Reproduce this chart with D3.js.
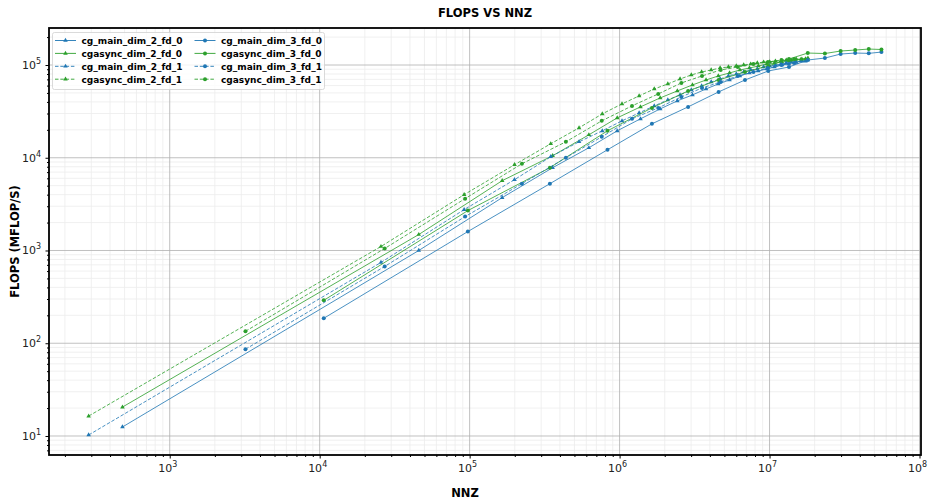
<!DOCTYPE html>
<html>
<head>
<meta charset="utf-8">
<script src="https://cdn.jsdelivr.net/npm/d3@7/dist/d3.min.js"></script>
<style>
  body { margin: 0; background: #fff; }
  text { font-family: "DejaVu Sans", sans-serif; }
</style>
</head>
<body>
<script>
      // Width and height
      var w = 930;
      var h = 499;

      // NNZ values (x) for each problem family
      var nnzDim2Fd0 = [484, 45796, 164836, 357604, 624100, 964324, 1378276, 1865956, 2427364, 3062500, 3771364, 4553956, 5410276, 6340324, 7344100, 8421604, 9572836, 10797796, 12096484, 13468900, 14915044, 16434916, 18028516];
      var nnzDim2Fd1 = [288, 25632, 91936, 199200, 347424, 536608, 766752, 1037856, 1349920, 1702944, 2096928, 2531872, 3007776, 3524640, 4082464, 4681248, 5320992, 6001696, 6723360, 7485984, 8289568, 9134112, 10019616, 10946080, 11913504, 12921888, 13971232, 15061536, 16192800, 17365024];
      var nnzDim3Fd0 = [10648, 97336, 343000, 830584, 1643032, 2863288, 4574296, 6859000, 9800344, 13481272, 17984728, 23393656, 29791000, 37259704, 45882712, 55742968];
      var nnzDim3Fd1 = [3200, 27136, 93312, 223232, 438400, 760320, 1210496, 1810432, 2581632, 3545600, 4723840, 6137856, 7809152, 9759232, 12009600, 14581760];

      // FLOPS (MFLOP/s)
      var cgMainDim2Fd0 = [12.5, 1000, 3715, 7810, 12810, 19520, 26270, 33650, 41020, 47580, 55200, 62480, 68970, 76170, 82040, 86200, 90580, 95170, 100000, 102500, 107700, 110400, 113200];
      var cgasyncDim2Fd0 = [20.5, 1486, 5660, 10510, 17680, 26920, 35350, 44180, 52530, 60950, 68970, 76170, 82040, 88370, 92860, 97560, 102500, 105100, 107700, 110400, 113200, 116000, 118900];
      var cgMainDim2Fd1 = [10.25, 743, 2760, 5800, 10250, 14860, 19520, 25000, 30470, 36240, 42040, 47580, 53850, 59460, 65650, 70700, 76170, 80040, 84090, 88370, 90580, 95170, 97560, 100000, 102500, 105100, 107700, 106900, 110400, 109800];
      var cgasyncDim2Fd1 = [16.4, 1104, 4000, 8410, 14150, 21020, 29730, 38080, 46420, 55200, 62480, 70700, 78090, 84090, 88370, 92860, 95170, 97560, 100000, 102500, 105100, 107700, 108300, 110400, 111000, 113200, 112500, 116000, 115200, 116500];
      var cgMainDim3Fd0 = [185.7, 1601, 5250, 12190, 23210, 35350, 51250, 68970, 86200, 95170, 113200, 118900, 131300, 134600, 133500, 137900];
      var cgasyncDim3Fd0 = [290, 2692, 7810, 19520, 34490, 52530, 68970, 84090, 97560, 116000, 134600, 133000, 141500, 145000, 148600, 147000];
      var cgMainDim3Fd1 = [86.2, 673, 2321, 5250, 10000, 16820, 26270, 34490, 45280, 56580, 65650, 76170, 84090, 92860, 100000, 105100];
      var cgasyncDim3Fd1 = [134.6, 1051, 3623, 8620, 14860, 25000, 36240, 48770, 64050, 76170, 88370, 95170, 102500, 107700, 113200, 116000];

      var seriesNames = ["cg_main_dim_2_fd_0", "cgasync_dim_2_fd_0", "cg_main_dim_2_fd_1", "cgasync_dim_2_fd_1",
                         "cg_main_dim_3_fd_0", "cgasync_dim_3_fd_0", "cg_main_dim_3_fd_1", "cgasync_dim_3_fd_1"];
      var seriesX = [nnzDim2Fd0, nnzDim2Fd0, nnzDim2Fd1, nnzDim2Fd1, nnzDim3Fd0, nnzDim3Fd0, nnzDim3Fd1, nnzDim3Fd1];
      var seriesY = [cgMainDim2Fd0, cgasyncDim2Fd0, cgMainDim2Fd1, cgasyncDim2Fd1, cgMainDim3Fd0, cgasyncDim3Fd0, cgMainDim3Fd1, cgasyncDim3Fd1];

      var xTicks = [1e3, 1e4, 1e5, 1e6, 1e7, 1e8];
      var yTicks = [1e1, 1e2, 1e3, 1e4, 1e5];

      var blue = "#1f77b4", green = "#2ca02c";

      var series = seriesNames.map(function(name, i) {
        return {
          name: name,
          color: name.indexOf("cgasync") === 0 ? green : blue,
          dashed: /fd_1$/.test(name),
          marker: name.indexOf("dim_2") >= 0 ? "tri" : "dot",
          values: seriesX[i].map(function(x, j) { return { x: x, y: seriesY[i][j] }; })
        };
      });

      // plot box (note: "top" is reserved on window, so keep these in an object)
      var box = { l: 49, r: 921, t: 28, b: 455 };

      var x = d3.scaleLog()
          .domain([Math.pow(10, 2.195), Math.pow(10, 8.01)])
          .range([box.l, box.r]);
      var y = d3.scaleLog()
          .domain([Math.pow(10, 0.795), Math.pow(10, 5.399)])
          .range([box.b, box.t]);

      var svg = d3.select("body")
            .append("svg")
            .attr("width", w)
            .attr("height", h);

      // minor ticks: 2..9 x 10^k inside the domain
      function minorTicks(scale) {
        var d = scale.domain(), out = [];
        for (var k = Math.floor(Math.log10(d[0])); k <= Math.ceil(Math.log10(d[1])); k++) {
          for (var m = 2; m <= 9; m++) {
            var v = m * Math.pow(10, k);
            if (v >= d[0] && v <= d[1]) out.push(v);
          }
        }
        return out;
      }
      var xMinor = minorTicks(x), yMinor = minorTicks(y);

      //Grid
      var grid = svg.append("g");
      grid.selectAll(".xminor").data(xMinor).enter().append("line")
          .attr("x1", function(d) { return x(d); }).attr("x2", function(d) { return x(d); })
          .attr("y1", box.t).attr("y2", box.b)
          .attr("stroke", "#ececec").attr("stroke-width", 0.8);
      grid.selectAll(".yminor").data(yMinor).enter().append("line")
          .attr("y1", function(d) { return y(d); }).attr("y2", function(d) { return y(d); })
          .attr("x1", box.l).attr("x2", box.r)
          .attr("stroke", "#ececec").attr("stroke-width", 0.8);
      grid.selectAll(".xmajor").data(xTicks).enter().append("line")
          .attr("x1", function(d) { return x(d); }).attr("x2", function(d) { return x(d); })
          .attr("y1", box.t).attr("y2", box.b)
          .attr("stroke", "#b0b0b0").attr("stroke-width", 0.8);
      grid.selectAll(".ymajor").data(yTicks).enter().append("line")
          .attr("y1", function(d) { return y(d); }).attr("y2", function(d) { return y(d); })
          .attr("x1", box.l).attr("x2", box.r)
          .attr("stroke", "#b0b0b0").attr("stroke-width", 0.8);

      //Lines
      var line = d3.line()
          .x(function(d) { return x(d.x); })
          .y(function(d) { return y(d.y); });

      var triangle = d3.symbol().type(d3.symbolTriangle).size(9);

      function drawMarker(sel, s) {
        if (s.marker === "tri") {
          sel.append("path")
            .attr("d", triangle)
            .attr("fill", s.color);
        } else {
          sel.append("circle")
            .attr("r", 2)
            .attr("fill", s.color);
        }
      }

      var plot = svg.append("g");
      series.forEach(function(s) {
        plot.append("path")
          .datum(s.values)
          .attr("d", line)
          .attr("fill", "none")
          .attr("stroke", s.color)
          .attr("stroke-width", 0.9)
          .attr("stroke-opacity", 0.9)
          .attr("stroke-dasharray", s.dashed ? "3.5,1.8" : null);
        plot.selectAll(null)
          .data(s.values)
          .enter().append("g")
          .attr("transform", function(d) { return "translate(" + x(d.x) + "," + y(d.y) + ")"; })
          .each(function() { drawMarker(d3.select(this), s); });
      });

      //Axes
      var xAxis = svg.append("g")
          .attr("transform", "translate(0," + box.b + ")")
          .call(d3.axisBottom(x).tickValues(xTicks).tickSize(3.5).tickPadding(3).tickFormat(""));
      var yAxis = svg.append("g")
          .attr("transform", "translate(" + box.l + ",0)")
          .call(d3.axisLeft(y).tickValues(yTicks).tickSize(3.5).tickPadding(3).tickFormat(""));
      xAxis.select(".domain").remove();
      yAxis.select(".domain").remove();

      svg.append("g").attr("transform", "translate(0," + box.b + ")")
          .call(d3.axisBottom(x).tickValues(xMinor).tickSize(2).tickFormat(""))
          .select(".domain").remove();
      svg.append("g").attr("transform", "translate(" + box.l + ",0)")
          .call(d3.axisLeft(y).tickValues(yMinor).tickSize(2).tickFormat(""))
          .select(".domain").remove();

      // power-of-ten labels
      xTicks.forEach(function(v) {
        var t = svg.append("text")
          .attr("x", x(v) - 2)
          .attr("y", 472)
          .attr("text-anchor", "middle")
          .attr("font-size", 11)
          .attr("fill", "#222");
        t.append("tspan").text("10");
        t.append("tspan").attr("dy", -5).attr("font-size", 8).text(Math.round(Math.log10(v)));
      });
      yTicks.forEach(function(v) {
        var t = svg.append("text")
          .attr("x", 41)
          .attr("y", y(v) + 4)
          .attr("text-anchor", "end")
          .attr("font-size", 11)
          .attr("fill", "#222");
        t.append("tspan").text("10");
        t.append("tspan").attr("dy", -5).attr("font-size", 8).text(Math.round(Math.log10(v)));
      });

      //Frame
      svg.append("rect")
        .attr("x", box.l).attr("y", box.t)
        .attr("width", box.r - box.l).attr("height", box.b - box.t)
        .attr("fill", "none")
        .attr("stroke", "#000")
        .attr("stroke-width", 1.8);

      //Titles
      svg.append("text")
        .attr("x", (box.l + box.r) / 2).attr("y", 17)
        .attr("text-anchor", "middle")
        .attr("font-size", 11.5).attr("font-weight", "bold")
        .text("FLOPS VS NNZ");
      svg.append("text")
        .attr("x", 465).attr("y", 497)
        .attr("text-anchor", "middle")
        .attr("font-size", 11.5).attr("font-weight", "bold")
        .text("NNZ");
      svg.append("text")
        .attr("transform", "translate(19," + ((box.t + box.b) / 2) + ") rotate(-90)")
        .attr("text-anchor", "middle")
        .attr("font-size", 11.5).attr("font-weight", "bold")
        .text("FLOPS (MFLOP/S)");

      //Legend
      var legend = svg.append("g");
      legend.append("rect")
        .attr("x", 52.5).attr("y", 32.5)
        .attr("width", 272).attr("height", 57)
        .attr("rx", 2)
        .attr("fill", "#fff").attr("fill-opacity", 0.8)
        .attr("stroke", "#d0d0d0").attr("stroke-width", 0.8);

      series.forEach(function(s, i) {
        var col = Math.floor(i / 4), row = i % 4;
        var lx = col ? 194.5 : 55, ly = 40.5 + row * 12.9;
        var g = legend.append("g");
        g.append("line")
          .attr("x1", lx).attr("x2", lx + 21)
          .attr("y1", ly).attr("y2", ly)
          .attr("stroke", s.color).attr("stroke-width", 0.9)
          .attr("stroke-dasharray", s.dashed ? "3.5,1.8" : null);
        drawMarker(g.append("g").attr("transform", "translate(" + (lx + 10.5) + "," + ly + ")"), s);
        g.append("text")
          .attr("x", lx + 26.5).attr("y", ly + 3.3)
          .attr("font-size", 9).attr("font-weight", "bold")
          .text(s.name);
      });
</script>
</body>
</html>
